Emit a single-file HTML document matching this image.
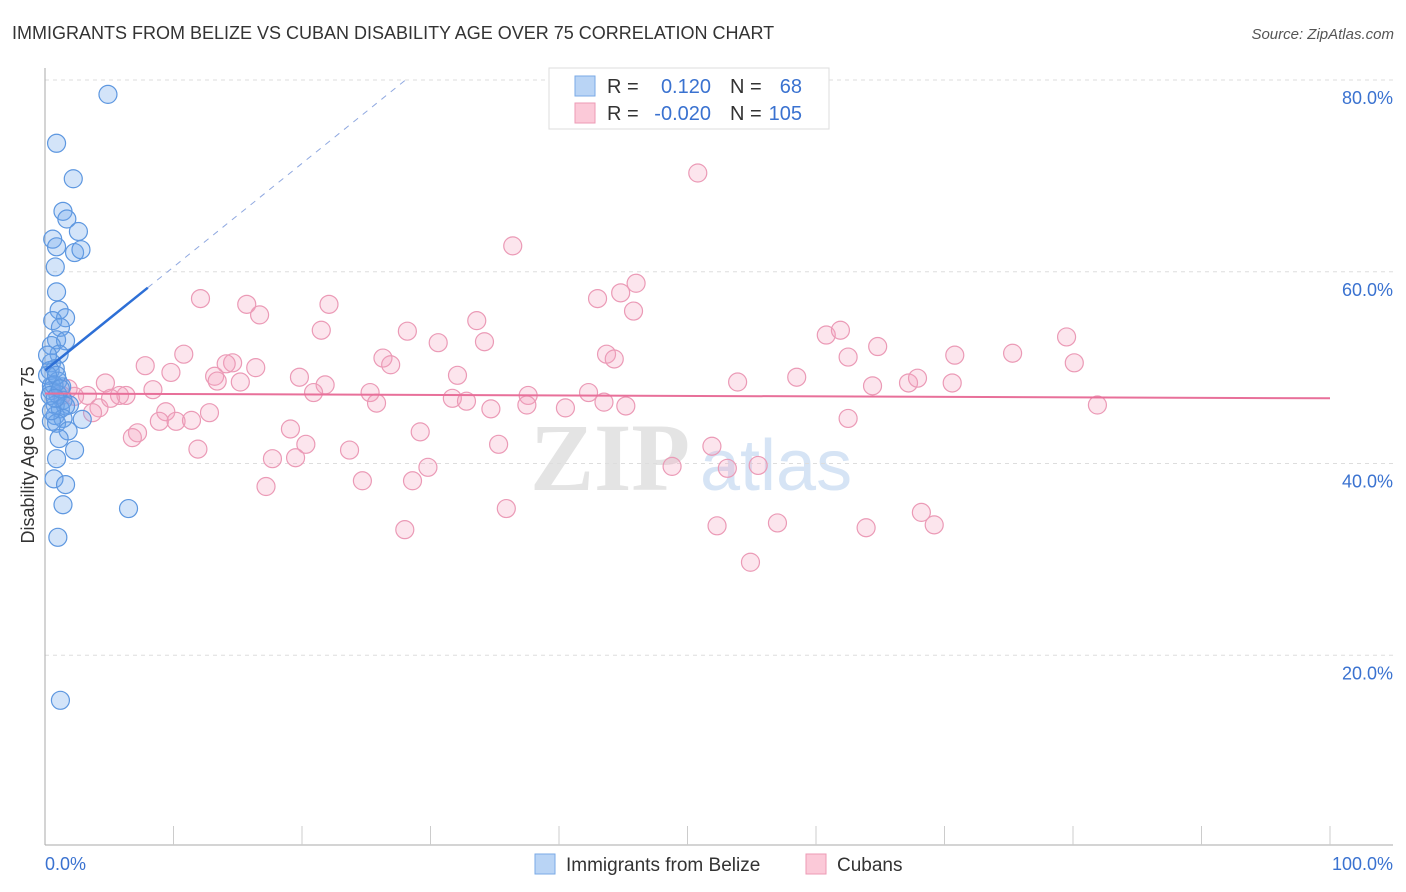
<!DOCTYPE html>
<html><head><meta charset="utf-8"><style>
body{margin:0;background:#fff;font-family:"Liberation Sans",sans-serif;}
svg{display:block}
</style></head><body>
<svg id="chart" width="1406" height="892" viewBox="0 0 1406 892" xmlns="http://www.w3.org/2000/svg">
<text x="12" y="39" font-size="18" fill="#333">IMMIGRANTS FROM BELIZE VS CUBAN DISABILITY AGE OVER 75 CORRELATION CHART</text>
<text x="1394" y="39" font-size="15" fill="#555" font-style="italic" text-anchor="end">Source: ZipAtlas.com</text>
<g>
<text x="690" y="490" font-size="96" fill="#e4e4e4" text-anchor="end" font-family="Liberation Serif,serif" font-weight="bold">ZIP</text>
<text x="700" y="490" font-size="72" fill="#d6e4f5">atlas</text>
</g>
<g id="grid"></g>
<g id="axes"></g>
<text x="34" y="455" font-size="18" fill="#333" text-anchor="middle" transform="rotate(-90 34 455)">Disability Age Over 75</text>
<g id="pink"></g>
<g id="blue"></g>
<g id="trends"></g>
<g>
<rect x="549" y="68" width="280" height="61" fill="#fff" stroke="#ddd"/>
<rect x="575" y="76" width="20" height="20" fill="#b9d4f5" stroke="#7aaae6"/>
<rect x="575" y="103" width="20" height="20" fill="#fbc9d8" stroke="#ec9ab5"/>
<text x="607" y="93" font-size="20" fill="#333">R =</text>
<text x="711" y="93" font-size="20" fill="#3a72d0" text-anchor="end">0.120</text>
<text x="730" y="93" font-size="20" fill="#333">N =</text>
<text x="802" y="93" font-size="20" fill="#3a72d0" text-anchor="end">68</text>
<text x="607" y="120" font-size="20" fill="#333">R =</text>
<text x="711" y="120" font-size="20" fill="#3a72d0" text-anchor="end">-0.020</text>
<text x="730" y="120" font-size="20" fill="#333">N =</text>
<text x="802" y="120" font-size="20" fill="#3a72d0" text-anchor="end">105</text>
</g>
<g>
<rect x="535" y="854" width="20" height="20" fill="#b9d4f5" stroke="#7aaae6"/>
<text x="566" y="871" font-size="19" fill="#333">Immigrants from Belize</text>
<rect x="806" y="854" width="20" height="20" fill="#fbc9d8" stroke="#ec9ab5"/>
<text x="837" y="871" font-size="19" fill="#333">Cubans</text>
</g>
</svg>
<script>
const yTicks=[20,40,60,80];
const yTickLabels=["20.0%","40.0%","60.0%","80.0%"];
const xTickLabels=["0.0%","100.0%"];
const blueX=[4.9,0.9,2.2,1.4,1.7,2.6,0.6,0.9,2.3,2.8,0.8,0.9,1.1,1.6,0.6,1.2,0.9,1.6,0.5,1.1,0.5,0.8,0.4,1.0,0.5,1.3,0.5,1.0,1.4,0.8,1.9,1.2,1.6,0.8,1.4,2.9,0.5,0.9,1.8,1.1,2.3,0.9,0.7,1.6,1.4,6.5,1.0,1.2,0.2,0.7,0.4,0.9,1.2,0.5,0.2,0.8];
const blueY=[78.5,73.4,69.7,66.3,65.5,64.2,63.4,62.6,62.0,62.3,60.5,57.9,56.0,55.2,54.9,54.2,52.9,52.8,52.3,51.4,50.5,49.9,49.7,48.6,48.1,48.0,47.6,47.2,46.6,46.1,46.1,45.7,46.0,45.0,44.7,44.6,44.4,44.2,43.4,42.6,41.4,40.5,38.4,37.8,35.7,35.3,32.3,15.3,49.2,48.2,47.1,49.2,47.8,45.5,51.3,46.8];
const pinkX=[50.8,36.4,46.0,43.0,44.8,12.1,15.7,22.1,16.7,45.8,33.6,21.5,28.2,60.8,61.9,79.5,30.6,34.2,64.8,10.8,26.3,43.7,44.3,62.5,70.8,75.3,80.1,7.8,14.6,14.1,16.4,26.9,9.8,13.2,19.8,32.1,13.4,15.2,4.7,53.9,58.5,21.8,64.4,67.2,67.9,70.6,8.4,20.9,25.3,31.7,42.3,37.6,32.8,5.8,3.3,6.3,25.8,34.7,37.5,40.5,43.5,45.2,4.2,9.4,3.7,12.8,8.9,10.2,11.4,62.5,19.1,29.2,7.2,6.8,20.3,35.3,51.9,11.9,23.7,17.7,19.5,48.8,53.1,55.5,29.8,24.7,28.6,17.2,35.9,52.3,57.0,63.9,68.2,69.2,28.0,54.9,81.9,2.3,1.8,1.3,5.1];
const pinkY=[70.3,62.7,58.8,57.2,57.8,57.2,56.6,56.6,55.5,55.9,54.9,53.9,53.8,53.4,53.9,53.2,52.6,52.7,52.2,51.4,51.0,51.4,50.9,51.1,51.3,51.5,50.5,50.2,50.5,50.4,50.0,50.3,49.5,49.1,49.0,49.2,48.6,48.5,48.4,48.5,49.0,48.2,48.1,48.4,48.9,48.4,47.7,47.4,47.4,46.8,47.4,47.1,46.5,47.1,47.1,47.1,46.3,45.7,46.1,45.8,46.4,46.0,45.8,45.4,45.3,45.3,44.4,44.4,44.5,44.7,43.6,43.3,43.2,42.7,42.0,42.0,41.8,41.5,41.4,40.5,40.6,39.7,39.5,39.8,39.6,38.2,38.2,37.6,35.3,33.5,33.8,33.3,34.9,33.6,33.1,29.7,46.1,47.0,47.8,47.1,46.8];
const blueTrend=[49.7,1.08];
const pinkTrend=[47.3,-0.005];
const NS="http://www.w3.org/2000/svg";
const X0=45,X1=1330,Y0=847,Y80=80;
function sx(v){return X0+(X1-X0)*v/100;}
function sy(v){return Y0-(Y0-Y80)*v/80;}
function mk(tag,attrs,parent){const e=document.createElementNS(NS,tag);for(const k in attrs)e.setAttribute(k,attrs[k]);parent.appendChild(e);return e;}
const grid=document.getElementById('grid');
yTicks.forEach((t,i)=>{
 const l=mk('line',{x1:X0,x2:1393,y1:sy(t),y2:sy(t),stroke:'#ddd','stroke-dasharray':'4,4'},grid);
 
 
 const tx=mk('text',{x:1393,y:sy(t)+24,'font-size':18,fill:'#3a72d0','text-anchor':'end'},grid);
 tx.textContent=yTickLabels[i];
 
 
});
const axes=document.getElementById('axes');
mk('line',{x1:X0,x2:X0,y1:68,y2:845,stroke:'#aaa'},axes);
mk('line',{x1:X0,x2:1393,y1:845,y2:845,stroke:'#aaa'},axes);
for(let k=1;k<=10;k++){const t=mk('line',{x1:sx(k*10),x2:sx(k*10),y1:826,y2:845,stroke:'#ccc'},axes);
 
 }
const xl0=mk('text',{x:X0,y:870,'font-size':18,fill:'#3a72d0'},axes);xl0.textContent=xTickLabels[0];


const xl1=mk('text',{x:1393,y:870,'font-size':18,fill:'#3a72d0','text-anchor':'end'},axes);xl1.textContent=xTickLabels[1];


const pink=document.getElementById('pink');
pinkX.forEach((x,i)=>{const c=mk('circle',{cx:sx(x),cy:sy(pinkY[i]),r:9,fill:'rgba(245,160,190,0.28)',stroke:'#eb9ab6','stroke-width':1.2},pink);
 
 });
const blue=document.getElementById('blue');
blueX.forEach((x,i)=>{const c=mk('circle',{cx:sx(x),cy:sy(blueY[i]),r:9,fill:'rgba(110,165,235,0.3)',stroke:'#5d97e0','stroke-width':1.2},blue);
 
 });
const tr=document.getElementById('trends');
const bs=mk('line',{x1:sx(0),y1:sy(blueTrend[0]),x2:sx(8),y2:sy(blueTrend[0]+8*blueTrend[1]),stroke:'#2d6fd6','stroke-width':2.5},tr);


const bd=mk('line',{x1:sx(8),y1:sy(blueTrend[0]+8*blueTrend[1]),x2:sx(28),y2:sy(blueTrend[0]+28*blueTrend[1]),stroke:'#8fa8e0','stroke-width':1,'stroke-dasharray':'6,6'},tr);


const pl=mk('line',{x1:sx(0),y1:sy(pinkTrend[0]),x2:sx(100),y2:sy(pinkTrend[0]+100*pinkTrend[1]),stroke:'#e8709a','stroke-width':2},tr);


</script>
</body></html>
